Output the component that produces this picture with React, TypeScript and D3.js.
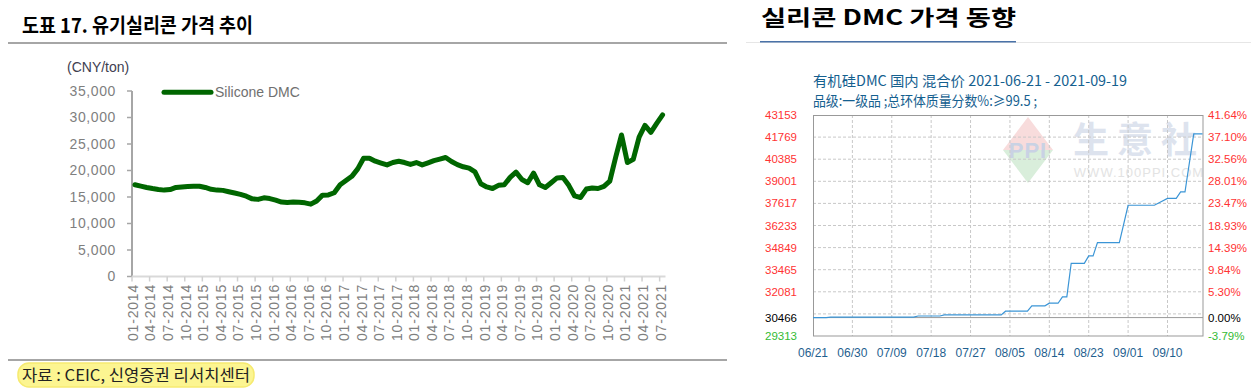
import React from "react";
import * as d3 from "d3";

// ---------- Left chart data ----------
const leftTitle = "도표 17. 유기실리콘 가격 추이";
const leftUnit = "(CNY/ton)";
const leftSeriesName = "Silicone DMC";
const leftSource = "자료 : CEIC, 신영증권 리서치센터";
const leftYTicks = [0, 5000, 10000, 15000, 20000, 25000, 30000, 35000];
const leftXTickLabels = [
  "01-2014", "04-2014", "07-2014", "10-2014",
  "01-2015", "04-2015", "07-2015", "10-2015",
  "01-2016", "04-2016", "07-2016", "10-2016",
  "01-2017", "04-2017", "07-2017", "10-2017",
  "01-2018", "04-2018", "07-2018", "10-2018",
  "01-2019", "04-2019", "07-2019", "10-2019",
  "01-2020", "04-2020", "07-2020", "10-2020",
  "01-2021", "04-2021", "07-2021",
];
// monthly, 01-2014 .. 07-2021
const dmcMonthly = [
  17300, 17050, 16800, 16600, 16430, 16300, 16400, 16800, 16900, 17000, 17050, 17030,
  16800, 16450, 16300, 16250, 16000, 15750, 15500, 15150, 14650, 14550, 14850, 14700,
  14400, 14050, 13950, 14050, 14000, 13900, 13650, 14250, 15350, 15400, 15800, 17300,
  18100, 18900, 20300, 22300, 22300, 21750, 21400, 21050, 21500, 21750, 21500, 21150,
  21500, 21050, 21450, 21850, 22150, 22450, 21700, 21100, 20700, 20450, 19750, 17500,
  16900, 16600, 17200, 17300, 18700, 19700, 18300, 17700, 19500, 17300, 16800, 17700,
  18600, 18700, 17200, 15200, 14900, 16500, 16700, 16600, 17000, 18000, 22500, 26700,
  21500, 22100, 26300, 28500, 27200, 28900, 30500,
];

// ---------- Right chart data ----------
const rightTitle = "실리콘 DMC 가격 동향";
const rightChartTitle = "有机硅DMC 国内 混合价 2021-06-21 - 2021-09-19";
const rightSubtitle = "品级:一级品 ;总环体质量分数%:≥99.5 ;";
const rightDates = [
  "2021-06-21", "2021-06-24", "2021-06-25", "2021-07-14", "2021-07-15", "2021-07-20",
  "2021-07-21", "2021-08-03", "2021-08-04", "2021-08-09", "2021-08-10", "2021-08-13",
  "2021-08-14", "2021-08-16", "2021-08-17", "2021-08-18", "2021-08-19", "2021-08-22",
  "2021-08-23", "2021-08-24", "2021-08-25", "2021-08-30", "2021-09-01", "2021-09-07",
  "2021-09-10", "2021-09-12", "2021-09-13", "2021-09-14", "2021-09-16", "2021-09-18",
];
const rightPrices = [
  30466, 30466, 30500, 30500, 30566, 30566,
  30633, 30633, 30866, 30866, 31200, 31200,
  31366, 31366, 31766, 31766, 33866, 33866,
  34333, 34333, 35166, 35166, 37500, 37500,
  37933, 37933, 38333, 38333, 41966, 41966,
];
const rightLeftTicks = [43153, 41769, 40385, 39001, 37617, 36233, 34849, 33465, 32081, 30466, 29313];
const rightPctTicks = ["41.64%", "37.10%", "32.56%", "28.01%", "23.47%", "18.93%", "14.39%", "9.84%", "5.30%", "0.00%", "-3.79%"];
const rightGridValues = [41769, 40385, 39001, 37617, 36233, 34849, 33465, 32081, 30697];
const rightBaseValue = 30466;
const rightXLabels = ["06/21", "06/30", "07/09", "07/18", "07/27", "08/05", "08/14", "08/23", "09/01", "09/10"];
const rightXLabelDates = [
  "2021-06-21", "2021-06-30", "2021-07-09", "2021-07-18", "2021-07-27",
  "2021-08-05", "2021-08-14", "2021-08-23", "2021-09-01", "2021-09-10",
];

const parse = d3.timeParse("%Y-%m-%d");

export default function App() {
  // Left chart scales
  const idx = d3.range(dmcMonthly.length);
  const xL = d3.scaleBand<number>().domain(idx).range([132, 665.5]).padding(0);
  const bw = xL.bandwidth();
  const yL = d3.scaleLinear().domain([0, 35000]).range([276.5, 91]);
  const lineL = d3
    .line<number>()
    .x((_, i) => (xL(i) as number) + bw / 2)
    .y((d) => yL(d))
    .curve(d3.curveLinear);
  const fmt = d3.format(",");

  // Right chart scales
  const xR = d3
    .scaleTime()
    .domain([parse("2021-06-21") as Date, parse("2021-09-18") as Date])
    .range([813, 1202.5]);
  const yR = d3.scaleLinear().domain([29313, 43153]).range([336, 115]);
  const rPts = rightDates.map((d, i) => [parse(d) as Date, rightPrices[i]] as [Date, number]);
  const lineR = d3
    .line<[Date, number]>()
    .x((d) => xR(d[0]))
    .y((d) => yR(d[1]));

  const greyLabel = "#7f7f7f";
  const kfont = "'Noto Sans CJK KR', 'Noto Sans', sans-serif";
  const cfont = "'Noto Sans CJK SC', 'Noto Sans', sans-serif";
  const afont = "'Liberation Sans', Arial, sans-serif";

  return (
    <svg
      width={1251}
      height={388}
      style={{ position: "absolute", left: 0, top: 0, display: "block", background: "#fff" }}
    >
      <rect x={0} y={0} width={1251} height={388} fill="#fff" />
      {/* ===== LEFT PANEL ===== */}
      <text
        x={22}
        y={33}
        fontFamily={kfont}
        fontWeight={700}
        fontSize={20}
        fill="#000"
        textLength={231}
        lengthAdjust="spacingAndGlyphs"
      >
        {leftTitle}
      </text>
      <line x1={8} x2={727} y1={43} y2={43} stroke="#a6a6a6" strokeWidth={2} />

      <text x={67} y={72} fontFamily={afont} fontSize={14} fill="#404050">
        {leftUnit}
      </text>

      {/* y axis */}
      <line x1={132} x2={132} y1={yL(35000)} y2={yL(0)} stroke="#a6a6a6" strokeWidth={2} />
      {leftYTicks.map((t) => (
        <g key={t}>
          <line x1={127} x2={132} y1={yL(t)} y2={yL(t)} stroke="#a6a6a6" strokeWidth={1.5} />
          <text
            x={116}
            y={yL(t)}
            dy="0.35em"
            textAnchor="end"
            fontFamily={afont}
            fontSize={14}
            letterSpacing={0.6}
            fill={greyLabel}
          >
            {fmt(t)}
          </text>
        </g>
      ))}

      {/* x axis */}
      <line x1={132} x2={665.5} y1={yL(0)} y2={yL(0)} stroke="#d9d9d9" strokeWidth={2} />
      {leftXTickLabels.map((lab, k) => {
        const x = xL(k * 3) as number;
        return (
          <g key={lab}>
            <line x1={x} x2={x} y1={yL(0)} y2={yL(0) + 5} stroke="#d0d0d0" strokeWidth={1.5} />
            <text
              transform={`translate(${x + 1},${284}) rotate(-90)`}
              dy="0.35em"
              textAnchor="end"
              fontFamily={afont}
              fontSize={14}
              letterSpacing={0.8}
              fill={greyLabel}
            >
              {lab}
            </text>
          </g>
        );
      })}

      {/* series */}
      <path
        d={lineL(dmcMonthly) as string}
        fill="none"
        stroke="#006600"
        strokeWidth={5}
        strokeLinejoin="round"
        strokeLinecap="round"
      />

      {/* legend */}
      <line x1={164} x2={211} y1={92.3} y2={92.3} stroke="#006600" strokeWidth={5} strokeLinecap="round" />
      <text x={215} y={92.3} dy="0.35em" fontFamily={afont} fontSize={14} fill="#707070">
        {leftSeriesName}
      </text>

      <line x1={8} x2={727} y1={360} y2={360} stroke="#a6a6a6" strokeWidth={2} />
      <rect x={18} y={363} width={236} height={24} rx={11} fill="#fcf591" stroke="#f6ea70" strokeWidth={1.5} />
      <text
        x={22}
        y={381}
        fontFamily={kfont}
        fontSize={16}
        fill="#222"
        textLength={228}
        lengthAdjust="spacingAndGlyphs"
      >
        {leftSource}
      </text>

      {/* ===== RIGHT PANEL ===== */}
      <text
        x={761}
        y={24.5}
        fontFamily={kfont}
        fontWeight={700}
        fontSize={21}
        fill="#000"
        textLength={255}
        lengthAdjust="spacingAndGlyphs"
      >
        {rightTitle}
      </text>
      <line x1={746} x2={1251} y1={42.5} y2={42.5} stroke="#e6e6e6" strokeWidth={1} />
      <line x1={760} x2={1016} y1={41.8} y2={41.8} stroke="#4a72a8" strokeWidth={1.5} />

      <text
        x={813}
        y={86}
        fontFamily={cfont}
        fontSize={14}
        fill="#15608f"
        textLength={314}
        lengthAdjust="spacingAndGlyphs"
      >
        {rightChartTitle}
      </text>
      <text
        x={813}
        y={106}
        fontFamily={cfont}
        fontSize={14}
        fill="#15608f"
        textLength={224}
        lengthAdjust="spacingAndGlyphs"
      >
        {rightSubtitle}
      </text>

      {/* watermark */}
      <g>
        <path d="M1028,117 L1053,150 L1003,150 Z" fill="#f8dcdc" />
        <path d="M1028,183 L1053,150 L1003,150 Z" fill="#d9eedb" />
        <text x={1028} y={158} textAnchor="middle" fontFamily={afont} fontWeight={700} fontSize={22} fill="#c9d2e4" letterSpacing={1}>
          PPI
        </text>
        <text x={1139} y={153} textAnchor="middle" fontFamily={cfont} fontWeight={700} fontSize={36} fill="#dde3ee" letterSpacing={8}>
          生意社
        </text>
        <text x={1139} y={177} textAnchor="middle" fontFamily={afont} fontSize={13} fill="#e3e3e3" letterSpacing={1}>
          WWW.100PPI.COM
        </text>
      </g>

      {/* grid */}
      {rightGridValues.map((v) => (
        <line key={v} x1={813} x2={1203} y1={yR(v)} y2={yR(v)} stroke="#c8c8c8" strokeDasharray="3,2" strokeWidth={1} />
      ))}
      {rightXLabelDates.slice(1).map((d) => {
        const x = xR(parse(d) as Date);
        return <line key={d} x1={x} x2={x} y1={115} y2={336} stroke="#c8c8c8" strokeDasharray="3,2" strokeWidth={1} />;
      })}
      <line x1={813} x2={1203} y1={yR(rightBaseValue)} y2={yR(rightBaseValue)} stroke="#999" strokeWidth={1} />
      <rect x={813.5} y={115.5} width={389.5} height={220.5} fill="none" stroke="#999" strokeWidth={1} />

      {/* price line */}
      <path d={lineR(rPts) as string} fill="none" stroke="#3b95d6" strokeWidth={1.2} />

      {/* y labels */}
      {rightLeftTicks.map((v, i) => {
        const color = i === rightLeftTicks.length - 1 ? "#33bb33" : i === rightLeftTicks.length - 2 ? "#000" : "#ff3333";
        const y = i === rightLeftTicks.length - 1 ? 336 : yR(v);
        return (
          <g key={v}>
            <text x={797} y={y} dy="0.35em" textAnchor="end" fontFamily={afont} fontSize={11.5} fill={color}>
              {v}
            </text>
            <text x={1208} y={y} dy="0.35em" textAnchor="start" fontFamily={afont} fontSize={11.5} fill={color}>
              {rightPctTicks[i]}
            </text>
          </g>
        );
      })}

      {/* x labels */}
      {rightXLabels.map((lab, i) => (
        <text
          key={lab}
          x={xR(parse(rightXLabelDates[i]) as Date)}
          y={353}
          dy="0.35em"
          textAnchor="middle"
          fontFamily={afont}
          fontSize={12}
          fill="#1f5f8f"
        >
          {lab}
        </text>
      ))}
    </svg>
  );
}
